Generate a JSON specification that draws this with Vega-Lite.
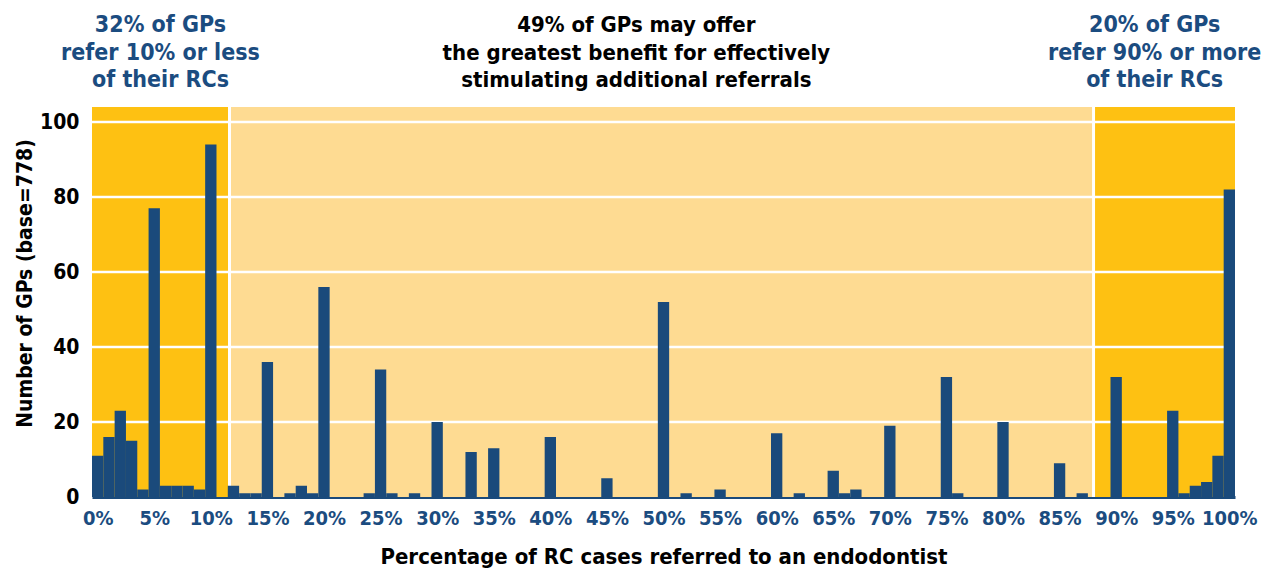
{
  "$schema": "https://vega.github.io/schema/vega-lite/v6.json",
  "width": 1143,
  "height": 390,
  "autosize": {"type": "none"},
  "padding": {"left": 92, "top": 107, "right": 33, "bottom": 74},
  "background": "white",
  "config": {
    "view": {"stroke": null},
    "font": "'DejaVu Sans Condensed', 'DejaVu Sans', sans-serif",
    "text": {"lineBreak": "\n"}
  },
  "datasets": {
    "bars": [
      {"pct": 0, "n": 11}, {"pct": 1, "n": 16}, {"pct": 2, "n": 23}, {"pct": 3, "n": 15},
      {"pct": 4, "n": 2}, {"pct": 5, "n": 77}, {"pct": 6, "n": 3}, {"pct": 7, "n": 3},
      {"pct": 8, "n": 3}, {"pct": 9, "n": 2}, {"pct": 10, "n": 94}, {"pct": 12, "n": 3},
      {"pct": 13, "n": 1}, {"pct": 14, "n": 1}, {"pct": 15, "n": 36}, {"pct": 17, "n": 1},
      {"pct": 18, "n": 3}, {"pct": 19, "n": 1}, {"pct": 20, "n": 56}, {"pct": 24, "n": 1},
      {"pct": 25, "n": 34}, {"pct": 26, "n": 1}, {"pct": 28, "n": 1}, {"pct": 30, "n": 20},
      {"pct": 33, "n": 12}, {"pct": 35, "n": 13}, {"pct": 40, "n": 16}, {"pct": 45, "n": 5},
      {"pct": 50, "n": 52}, {"pct": 52, "n": 1}, {"pct": 55, "n": 2}, {"pct": 60, "n": 17},
      {"pct": 62, "n": 1}, {"pct": 65, "n": 7}, {"pct": 66, "n": 1}, {"pct": 67, "n": 2},
      {"pct": 70, "n": 19}, {"pct": 75, "n": 32}, {"pct": 76, "n": 1}, {"pct": 80, "n": 20},
      {"pct": 85, "n": 9}, {"pct": 87, "n": 1}, {"pct": 90, "n": 32}, {"pct": 95, "n": 23},
      {"pct": 96, "n": 1}, {"pct": 97, "n": 3}, {"pct": 98, "n": 4}, {"pct": 99, "n": 11},
      {"pct": 100, "n": 82}
    ],
    "zones": [
      {"zone": "low", "start": -0.5, "end": 11.65},
      {"zone": "mid", "start": 11.65, "end": 88.0},
      {"zone": "high", "start": 88.0, "end": 100.5}
    ],
    "dividers": [{"at": 11.65}, {"at": 88.0}],
    "grid": [{"g": 20}, {"g": 40}, {"g": 60}, {"g": 80}, {"g": 100}],
    "notes": [
      {"x": 5.55, "y": 123.9, "label": "32% of GPs\nrefer 10% or less\nof their RCs", "kind": "side"},
      {"x": 93.4, "y": 123.9, "label": "20% of GPs\nrefer 90% or more\nof their RCs", "kind": "side"}
    ],
    "midnote": [
      {"x": 47.6, "y": 124.0, "label": "49% of GPs may offer\nthe greatest benefit for effectively\nstimulating additional referrals"}
    ]
  },
  "layer": [
    {
      "data": {"name": "zones"},
      "mark": {"type": "rect"},
      "encoding": {
        "x": {"field": "start", "type": "quantitative", "scale": {"domain": [-0.5, 100.5], "nice": false, "zero": false, "padding": 0},
              "axis": {"values": [0,5,10,15,20,25,30,35,40,45,50,55,60,65,70,75,80,85,90,95,100],
                       "labelExpr": "datum.value + '%'", "title": "Percentage of RC cases referred to an endodontist",
                       "labelColor": "#1B4C80", "labelFontSize": 20, "labelFontWeight": "bold", "labelPadding": 11,
                       "ticks": false, "grid": false, "domainColor": "#1A4A7B", "domainWidth": 3,
                       "titleFontSize": 22, "titleFontWeight": "bold", "titleColor": "#000000", "titlePadding": 18,
                       "labelOverlap": false, "labelFlush": false}},
        "x2": {"field": "end"},
        "y": {"datum": 104, "type": "quantitative", "scale": {"domain": [0, 104], "nice": false},
              "axis": {"values": [0, 20, 40, 60, 80, 100], "title": "Number of GPs (base=778)",
                       "labelColor": "#000000", "labelFontSize": 21, "labelFontWeight": "bold", "labelPadding": 13,
                       "ticks": false, "grid": false, "domain": false,
                       "titleFontSize": 21, "titleFontWeight": "bold", "titleColor": "#000000",
                       "titleX": -67, "titleY": 176, "titleAngle": -90, "titleAlign": "center", "titleBaseline": "middle"}},
        "y2": {"datum": 0},
        "color": {"field": "zone", "type": "nominal", "legend": null,
                  "scale": {"domain": ["low", "mid", "high"], "range": ["#FEC112", "#FEDB92", "#FEC112"]}}
      }
    },
    {
      "data": {"name": "grid"},
      "mark": {"type": "rule", "color": "white", "strokeWidth": 2.5},
      "encoding": {"y": {"field": "g", "type": "quantitative"}}
    },
    {
      "data": {"name": "dividers"},
      "mark": {"type": "rule", "color": "white", "strokeWidth": 3},
      "encoding": {"x": {"field": "at", "type": "quantitative"}, "y": {"datum": 0}, "y2": {"datum": 104}}
    },
    {
      "data": {"name": "bars"},
      "mark": {"type": "bar", "size": 11.32, "color": "#1A4A7B"},
      "encoding": {
        "x": {"field": "pct", "type": "quantitative"},
        "y": {"field": "n", "type": "quantitative"}
      }
    },
    {
      "data": {"name": "notes"},
      "mark": {"type": "text", "fontSize": 23, "fontWeight": "bold", "align": "center", "baseline": "alphabetic", "lineHeight": 27.5, "color": "#1B4C80"},
      "encoding": {
        "x": {"field": "x", "type": "quantitative"},
        "y": {"field": "y", "type": "quantitative"},
        "text": {"field": "label"}
      }
    },
    {
      "data": {"name": "midnote"},
      "mark": {"type": "text", "fontSize": 22, "fontWeight": "bold", "align": "center", "baseline": "alphabetic", "lineHeight": 27.5, "color": "#000000"},
      "encoding": {
        "x": {"field": "x", "type": "quantitative"},
        "y": {"field": "y", "type": "quantitative"},
        "text": {"field": "label"}
      }
    }
  ]
}
